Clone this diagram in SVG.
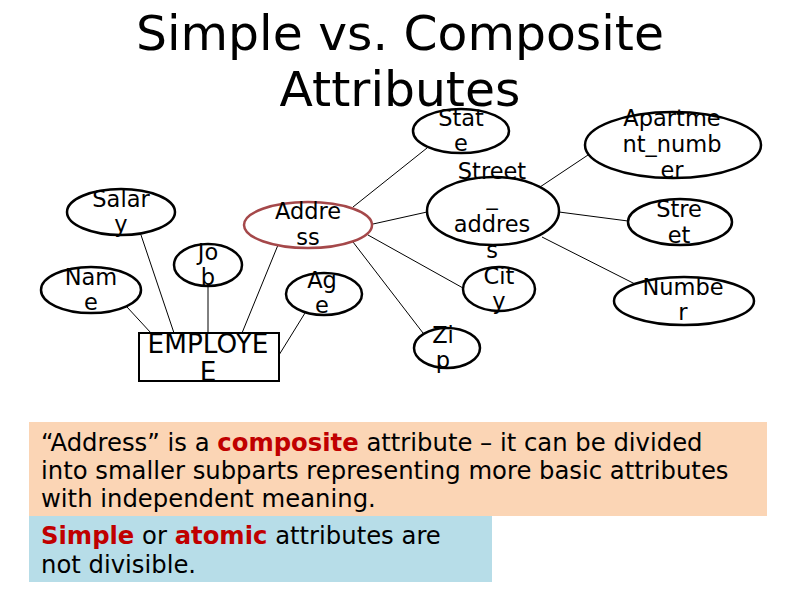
<svg xmlns="http://www.w3.org/2000/svg" width="800" height="600" viewBox="0 0 800 600">
<style>
text{font-family:"DejaVu Sans","Liberation Sans",sans-serif;fill:#000}
.t{font-size:48.8px;text-anchor:middle}
.a{font-size:22.5px;text-anchor:middle}
.e{font-size:26.3px;text-anchor:middle}
.b{font-size:24.3px}
.r{fill:#C00000;font-weight:bold}
ellipse{fill:#fff;stroke:#000;stroke-width:2.5}
#address ellipse{stroke:#A5484A}
.c line{stroke:#000;stroke-width:1}
</style>
<rect width="800" height="600" fill="#fff"/>
<text class="t" x="400" y="50">Simple vs. Composite</text>
<text class="t" x="400" y="106">Attributes</text>

<g class="c" id="connectors">
<line x1="141" y1="235" x2="174" y2="333"/>
<line x1="127" y1="307" x2="151" y2="333"/>
<line x1="208" y1="287" x2="208" y2="333"/>
<line x1="278" y1="245" x2="242" y2="333"/>
<line x1="305" y1="313" x2="279" y2="355"/>
<line x1="353" y1="207" x2="427" y2="148"/>
<line x1="373" y1="224" x2="427" y2="212"/>
<line x1="368" y1="235" x2="463" y2="288"/>
<line x1="353" y1="242" x2="423" y2="333"/>
<line x1="540" y1="187" x2="588" y2="155"/>
<line x1="559" y1="212" x2="628" y2="221"/>
<line x1="542" y1="237" x2="635" y2="284"/>
</g>

<g id="employee">
<rect x="139" y="333" width="140" height="48" fill="#fff" stroke="#000" stroke-width="2"/>
<text class="e" x="208" y="353">EMPLOYE</text>
<text class="e" x="208" y="381">E</text>
</g>
<g id="salary">
<ellipse cx="121" cy="212" rx="54" ry="23"/>
<text class="a" x="121" y="207">Salar</text>
<text class="a" x="121" y="232">y</text>
</g>
<g id="name">
<ellipse cx="91" cy="290" rx="50" ry="23"/>
<text class="a" x="91" y="285">Nam</text>
<text class="a" x="91" y="310">e</text>
</g>
<g id="job">
<ellipse cx="208" cy="265" rx="34" ry="21"/>
<text class="a" x="208" y="260">Jo</text>
<text class="a" x="208" y="285">b</text>
</g>
<g id="address">
<ellipse cx="308" cy="225" rx="64" ry="23"/>
<text class="a" x="308" y="219">Addre</text>
<text class="a" x="308" y="245">ss</text>
</g>
<g id="age">
<ellipse cx="324" cy="294" rx="38" ry="21"/>
<text class="a" x="322" y="288">Ag</text>
<text class="a" x="322" y="313">e</text>
</g>
<g id="state">
<ellipse cx="461" cy="131" rx="48" ry="22"/>
<text class="a" x="461" y="126">Stat</text>
<text class="a" x="461" y="151">e</text>
</g>
<g id="street_address">
<ellipse cx="493" cy="211" rx="66" ry="34"/>
<text class="a" x="492" y="179">Street</text>
<text class="a" x="492" y="205">_</text>
<text class="a" x="492" y="232">addres</text>
<text class="a" x="492" y="258">s</text>
</g>
<g id="city">
<ellipse cx="499" cy="289" rx="36" ry="22"/>
<text class="a" x="499" y="284">Cit</text>
<text class="a" x="499" y="309">y</text>
</g>
<g id="zip">
<ellipse cx="447" cy="348" rx="33" ry="20"/>
<text class="a" x="443" y="343">Zi</text>
<text class="a" x="443" y="368">p</text>
</g>
<g id="apartment_number">
<ellipse cx="673" cy="145" rx="88" ry="33"/>
<text class="a" x="672" y="126">Apartme</text>
<text class="a" x="672" y="152">nt_numb</text>
<text class="a" x="672" y="178">er</text>
</g>
<g id="street">
<ellipse cx="680" cy="222" rx="52" ry="23"/>
<text class="a" x="679" y="217">Stre</text>
<text class="a" x="679" y="243">et</text>
</g>
<g id="number">
<ellipse cx="684" cy="301" rx="70" ry="24"/>
<text class="a" x="683" y="295">Numbe</text>
<text class="a" x="683" y="320">r</text>
</g>

<g id="composite_note">
<rect x="29" y="422" width="738" height="94" fill="#FBD5B5"/>
<text class="b" x="41" y="451">“Address” is a <tspan class="r">composite</tspan> attribute – it can be divided</text>
<text class="b" x="41" y="479">into smaller subparts representing more basic attributes</text>
<text class="b" x="41" y="507">with independent meaning.</text>
</g>
<g id="simple_note">
<rect x="29" y="516" width="463" height="66" fill="#B7DDE8"/>
<text class="b" x="41" y="544"><tspan class="r">Simple</tspan> or <tspan class="r">atomic</tspan> attributes are</text>
<text class="b" x="41" y="573">not divisible.</text>
</g>
</svg>
